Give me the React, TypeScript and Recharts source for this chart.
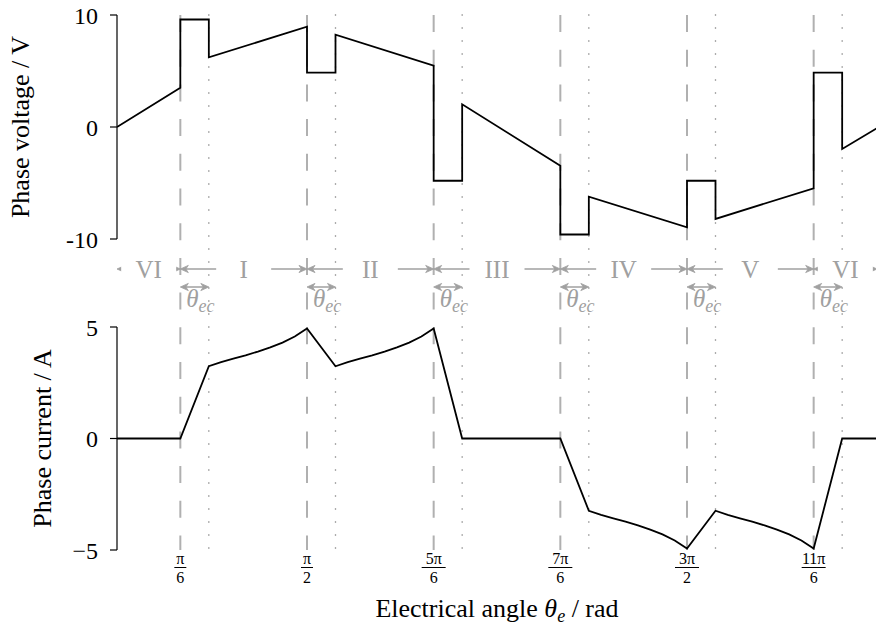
import React from 'react';
import { ComposedChart, Line, XAxis, YAxis, ReferenceLine } from 'recharts';

const FONT = '"Liberation Serif", "Times New Roman", serif';
const GREY = '#a0a0a0';
const DASH_GREY = '#b0b0b0';
const RAD = Math.PI / 180;

// Commutation instants (electrical degrees) and their π-fraction tick labels
const commutationDeg = [30, 90, 150, 210, 270, 330];
const tickNumerators = ['π', 'π', '5π', '7π', '3π', '11π'];
const tickDenominators = ['6', '2', '6', '6', '2', '6'];
// Commutation interval θec (electrical degrees)
const commutationWidthDeg = 13.5;

// Conduction sectors shown in the strip between the two panels
const sectorNames = ['VI', 'I', 'II', 'III', 'IV', 'V', 'VI'];
const sectorStartDeg = [0, 30, 90, 150, 210, 270, 330];
const sectorEndDeg = [30, 90, 150, 210, 270, 330, 360];

// Phase voltage (V); a repeated angle is a step change
const voltageDeg = [
  0, 30, 30, 43.5, 43.5, 90, 90, 103.5, 103.5, 150, 150, 163.5, 163.5,
  210, 210, 223.5, 223.5, 270, 270, 283.5, 283.5, 330, 330, 343.5, 343.5, 360,
];
const voltageV = [
  0, 3.5, 9.6, 9.6, 6.22, 8.96, 4.85, 4.85, 8.24, 5.47, -4.8, -4.8, 2.03,
  -3.46, -9.6, -9.6, -6.22, -8.96, -4.8, -4.8, -8.21, -5.47, 4.85, 4.85, -1.96, -0.1,
];

// Phase current (A)
const currentDeg = [
  0, 30,
  43.5, 49.3, 55.1, 60.9, 66.75, 72.6, 78.4, 84.2, 90,
  103.5, 109.3, 115.1, 120.9, 126.75, 132.6, 138.4, 144.2, 150,
  163.5, 210,
  223.5, 229.3, 235.1, 240.9, 246.75, 252.6, 258.4, 264.2, 270,
  283.5, 289.3, 295.1, 300.9, 306.75, 312.6, 318.4, 324.2, 330,
  343.5, 360,
];
const currentA = [
  0, 0,
  3.24, 3.42, 3.58, 3.73, 3.9, 4.09, 4.3, 4.57, 4.93,
  3.24, 3.42, 3.58, 3.73, 3.9, 4.09, 4.3, 4.57, 4.93,
  0, 0,
  -3.24, -3.42, -3.58, -3.73, -3.9, -4.09, -4.3, -4.57, -4.93,
  -3.24, -3.42, -3.58, -3.73, -3.9, -4.09, -4.3, -4.57, -4.93,
  0, 0,
];

const voltageTicks = [-10, 0, 10];
const voltageTickLabels = ['-10', '0', '10'];
const currentTicks = [-5, 0, 5];
const currentTickLabels = ['\u22125', '0', '5'];

// Layout of the stacked panels inside one plot area
const WIDTH = 877;
const HEIGHT = 630;
const PLOT_LEFT = 117;
const PLOT_TOP = 15;
const X_AXIS_H = 80;
const PLOT_H = HEIGHT - PLOT_TOP - X_AXIS_H;
const V_PANEL_H = 224; // 10 V .. -10 V from plot top
const I_PANEL_TOP = 312; // 5 A
const V_MAX = 10;
const V_MIN = V_MAX - (PLOT_H / V_PANEL_H) * 20;
const I_MIN = -5;
const I_MAX = I_MIN + (PLOT_H / (PLOT_H - I_PANEL_TOP)) * 10;
// strip rows, px from plot top
const ROW_SECTOR = 254;
const ROW_EC = 272;

const voltageData = voltageDeg.map((d, i) => ({ x: d * RAD, v: voltageV[i] }));
const currentData = currentDeg.map((d, i) => ({ x: d * RAD, a: currentA[i] }));
const tickValues = commutationDeg.map((d) => d * RAD);

const Head = ({ x, y, dir }: { x: number; y: number; dir: number }) => (
  <path
    d={`M${x},${y} L${x - dir * 8},${y - 3.6} L${x - dir * 5.5},${y} L${x - dir * 8},${y + 3.6} Z`}
    fill={GREY}
    stroke={GREY}
    strokeWidth={0.8}
    strokeLinejoin="round"
  />
);

const axisShape = (title: string, offset: number) => (p: any) => {
  const { x1, y1, x2, y2 } = p;
  const cy = (y1 + y2) / 2;
  const tx = x1 - offset;
  return (
    <g>
      <line x1={x1} y1={y1} x2={x2} y2={y2} stroke="#000" strokeWidth={1.2} />
      <text
        x={tx}
        y={cy}
        transform={`rotate(-90 ${tx} ${cy})`}
        textAnchor="middle"
        fontFamily={FONT}
        fontSize={26}
        fill="#000"
      >
        {title}
      </text>
    </g>
  );
};

// y-axis tick: short mark left of the axis plus its right-aligned label
const tickShape = (label: string) => (p: any) => {
  const x0 = Math.min(p.x1, p.x2);
  const y = p.y1;
  return (
    <g>
      <line x1={x0 - 7} x2={x0} y1={y} y2={y} stroke="#000" strokeWidth={1.2} />
      <text x={x0 - 19} y={y + 8.5} textAnchor="end" fontFamily={FONT} fontSize={24} fill="#000">
        {label}
      </text>
    </g>
  );
};

const plainLine = (stroke: string, width: number, dash: string, cap: 'butt' | 'round') => (p: any) => (
  <line
    x1={p.x1}
    y1={p.y1}
    x2={p.x2}
    y2={p.y2}
    stroke={stroke}
    strokeWidth={width}
    strokeDasharray={dash}
    strokeLinecap={cap}
  />
);

const sectorShape = (name: string) => (p: any) => {
  const { x1, x2, y1 } = p;
  const cx = (x1 + x2) / 2;
  return (
    <g>
      <line x1={x1 + 5} x2={x2 - 5} y1={y1} y2={y1} stroke={GREY} strokeWidth={1.5} />
      <Head x={x1} y={y1} dir={-1} />
      <Head x={x2} y={y1} dir={1} />
      <rect x={cx - 27.5} y={y1 - 14} width={55} height={28} fill="#fff" />
      <text x={cx} y={y1 + 8.5} textAnchor="middle" fontFamily={FONT} fontSize={25} fill={GREY}>
        {name}
      </text>
    </g>
  );
};

const ecShape = (p: any) => {
  const { x1, x2, y1 } = p;
  return (
    <g>
      <line x1={x1 + 5} x2={x2 - 5} y1={y1} y2={y1} stroke={GREY} strokeWidth={1.5} />
      <Head x={x1} y={y1} dir={-1} />
      <Head x={x2} y={y1} dir={1} />
      <text x={x1 + 6} y={y1 + 20} fontFamily={FONT} fill={GREY} fontSize={25} fontStyle="italic">
        θ
        <tspan fontSize={18} dy={5}>
          ec
        </tspan>
      </text>
    </g>
  );
};

const FractionTick = (props: any) => {
  const { x, y, payload } = props;
  const i = tickValues.findIndex((t) => Math.abs(t - payload.value) < 1e-9);
  if (i < 0) return null;
  const num = tickNumerators[i];
  const den = tickDenominators[i];
  const half = num.length > 1 ? 12 : 6;
  return (
    <g>
      <text x={x} y={y + 14} textAnchor="middle" fontFamily={FONT} fontSize={16} fill="#000">
        {num}
      </text>
      <line x1={x - half} x2={x + half} y1={y + 17.5} y2={y + 17.5} stroke="#000" strokeWidth={1} />
      <text x={x} y={y + 33} textAnchor="middle" fontFamily={FONT} fontSize={16} fill="#000">
        {den}
      </text>
    </g>
  );
};

const xTitle = (p: any) => {
  const vb = p.viewBox || {};
  const cx = vb.x + vb.width / 2;
  const y = vb.y + 67;
  return (
    <text x={cx} y={y} textAnchor="middle" fontFamily={FONT} fontSize={26} fill="#000">
      Electrical angle{' '}
      <tspan fontStyle="italic">θ</tspan>
      <tspan fontStyle="italic" fontSize={18} dy={5}>
        e
      </tspan>
      <tspan dy={-5}> / rad</tspan>
    </text>
  );
};

export default function App() {
  return (
    <div
      style={{
        position: 'absolute',
        left: 0,
        top: 0,
        width: 876,
        height: 630,
        overflow: 'hidden',
        background: '#fff',
      }}
    >
      <ComposedChart
        width={WIDTH}
        height={HEIGHT}
        margin={{ top: PLOT_TOP, right: 0, bottom: 0, left: PLOT_LEFT }}
      >
        <XAxis
          type="number"
          dataKey="x"
          domain={[0, 2 * Math.PI]}
          allowDataOverflow
          ticks={tickValues}
          interval={0}
          height={X_AXIS_H}
          axisLine={false}
          tickLine={false}
          tickSize={0}
          tickMargin={0}
          tick={<FractionTick />}
          label={xTitle}
        />
        <YAxis yAxisId="v" type="number" hide domain={[V_MIN, V_MAX]} allowDataOverflow />
        <YAxis yAxisId="i" type="number" hide domain={[I_MIN, I_MAX]} allowDataOverflow />
        <YAxis yAxisId="s" type="number" hide domain={[0, PLOT_H]} reversed allowDataOverflow />

        {commutationDeg.map((d) => (
          <ReferenceLine
            key={`dash-${d}`}
            yAxisId="v"
            ifOverflow="visible"
            segment={[
              { x: d * RAD, y: V_MAX },
              { x: d * RAD, y: V_MIN },
            ]}
            shape={plainLine(DASH_GREY, 2, '17 17.7', 'butt')}
          />
        ))}
        {commutationDeg.map((d) => (
          <ReferenceLine
            key={`dot-${d}`}
            yAxisId="v"
            ifOverflow="visible"
            segment={[
              { x: (d + commutationWidthDeg) * RAD, y: V_MAX },
              { x: (d + commutationWidthDeg) * RAD, y: V_MIN },
            ]}
            shape={plainLine('#808080', 1.6, '0 13', 'round')}
          />
        ))}

        <ReferenceLine
          yAxisId="v"
          ifOverflow="visible"
          segment={[
            { x: 0, y: voltageTicks[2] },
            { x: 0, y: voltageTicks[0] },
          ]}
          shape={axisShape('Phase voltage / V', 88)}
        />
        <ReferenceLine
          yAxisId="i"
          ifOverflow="visible"
          segment={[
            { x: 0, y: currentTicks[2] },
            { x: 0, y: currentTicks[0] },
          ]}
          shape={axisShape('Phase current / A', 66)}
        />
        {voltageTicks.map((t, i) => (
          <ReferenceLine
            key={`vt-${t}`}
            yAxisId="v"
            ifOverflow="visible"
            segment={[
              { x: 0, y: t },
              { x: 0.01, y: t },
            ]}
            shape={tickShape(voltageTickLabels[i])}
          />
        ))}
        {currentTicks.map((t, i) => (
          <ReferenceLine
            key={`it-${t}`}
            yAxisId="i"
            ifOverflow="visible"
            segment={[
              { x: 0, y: t },
              { x: 0.01, y: t },
            ]}
            shape={tickShape(currentTickLabels[i])}
          />
        ))}

        {sectorNames.map((name, i) => (
          <ReferenceLine
            key={`sector-${i}`}
            yAxisId="s"
            ifOverflow="visible"
            segment={[
              { x: sectorStartDeg[i] * RAD, y: ROW_SECTOR },
              { x: sectorEndDeg[i] * RAD, y: ROW_SECTOR },
            ]}
            shape={sectorShape(name)}
          />
        ))}
        {commutationDeg.map((d) => (
          <ReferenceLine
            key={`ec-${d}`}
            yAxisId="s"
            ifOverflow="visible"
            segment={[
              { x: d * RAD, y: ROW_EC },
              { x: (d + commutationWidthDeg) * RAD, y: ROW_EC },
            ]}
            shape={ecShape}
          />
        ))}

        <Line
          data={voltageData}
          dataKey="v"
          yAxisId="v"
          type="linear"
          stroke="#000"
          strokeWidth={1.8}
          dot={false}
          activeDot={false}
          isAnimationActive={false}
        />
        <Line
          data={currentData}
          dataKey="a"
          yAxisId="i"
          type="linear"
          stroke="#000"
          strokeWidth={1.8}
          dot={false}
          activeDot={false}
          isAnimationActive={false}
        />
      </ComposedChart>
    </div>
  );
}
